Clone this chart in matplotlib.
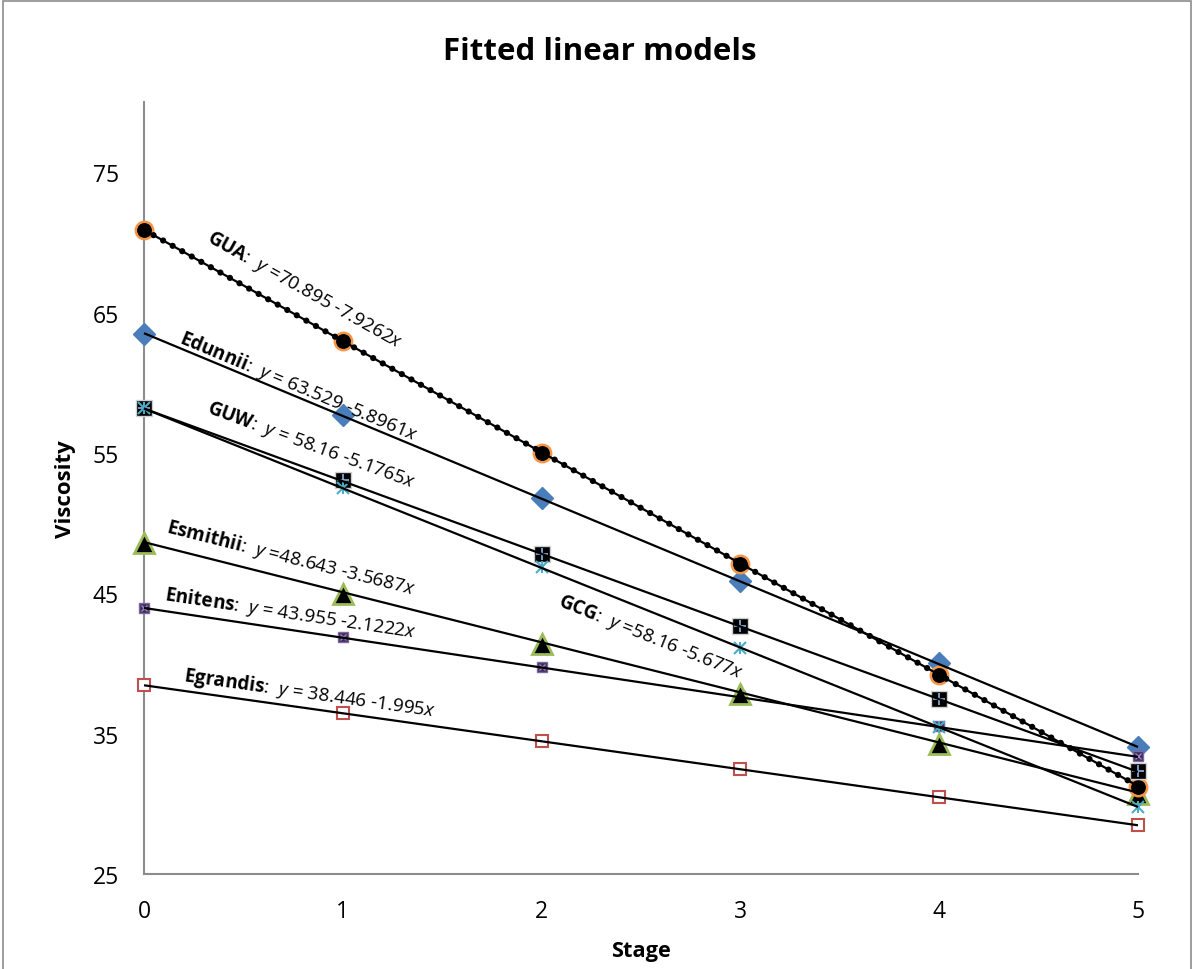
import math
import matplotlib
matplotlib.use("Agg")
import matplotlib.pyplot as plt
from matplotlib.patches import Rectangle

plt.rcParams['font.family'] = ['Open Sans', 'DejaVu Sans']
plt.rcParams['mathtext.fontset'] = 'custom'
plt.rcParams['mathtext.rm'] = 'Open Sans'
plt.rcParams['mathtext.it'] = 'Open Sans:italic'
plt.rcParams['mathtext.bf'] = 'Open Sans:bold'

# ---------------- data ----------------
stages = [0, 1, 2, 3, 4, 5]
series = ["Edunnii", "Egrandis", "Enitens", "Esmithii", "GUA", "GUW", "GCG"]
edunnii = [63.46, 57.69, 51.78, 45.87, 40.03, 34.05]
egrandis = [38.46, 36.47, 34.47, 32.48, 30.48, 28.49]
enitens = [43.95, 41.88, 39.74, 37.68, 35.54, 33.40]
esmithii = [48.58, 44.94, 41.38, 37.82, 34.26, 30.70]
gua = [70.87, 62.96, 54.99, 47.08, 39.17, 31.20]
guw = [58.19, 53.06, 47.79, 42.66, 37.46, 32.34]
gcg = [58.19, 52.49, 46.87, 41.10, 35.47, 29.77]
values = [edunnii, egrandis, enitens, esmithii, gua, guw, gcg]

# fitted models y = a + b x
intercepts = [63.529, 38.446, 43.955, 48.643, 70.895, 58.16, 58.16]
slopes = [-5.8961, -1.995, -2.1222, -3.5687, -7.9262, -5.1765, -5.677]
eq_text = [r"$\mathbf{Edunnii}$:  $\mathit{y}$ = 63.529 -5.8961$\mathit{x}$",
           r"$\mathbf{Egrandis}$:  $\mathit{y}$ = 38.446 -1.995$\mathit{x}$",
           r"$\mathbf{Enitens}$:  $\mathit{y}$ = 43.955 -2.1222$\mathit{x}$",
           r"$\mathbf{Esmithii}$:  $\mathit{y}$ =48.643 -3.5687$\mathit{x}$",
           r"$\mathbf{GUA}$:  $\mathit{y}$ =70.895 -7.9262$\mathit{x}$",
           r"$\mathbf{GUW}$:  $\mathit{y}$ = 58.16 -5.1765$\mathit{x}$",
           r"$\mathbf{GCG}$:  $\mathit{y}$ =58.16 -5.677$\mathit{x}$"]
yticks = [25, 35, 45, 55, 65, 75]
xticks = [0, 1, 2, 3, 4, 5]

# label placement (x, y in data units)
label_pos = [(0.181, 63.32), (0.201, 39.17), (0.106, 44.94), (0.116, 49.79),
             (0.322, 70.51), (0.322, 58.26), (2.088, 44.52)]

# ---------------- figure ----------------
W, H, DPI = 1196, 970, 100
fig = plt.figure(figsize=(W / DPI, H / DPI), dpi=DPI)
ax_l, ax_r, ax_b, ax_t = 144 / W, 1138 / W, (H - 875) / H, (H - 103) / H
ax = fig.add_axes([ax_l, ax_b, ax_r - ax_l, ax_t - ax_b])

# figure border
fig.patches.append(Rectangle((3 / W, -0.05), (1191 - 3) / W, 1.05 - 2 / H,
                             transform=fig.transFigure, fill=False,
                             edgecolor='#8c8c8c', linewidth=1.2))

marker_styles = {
    "Edunnii": dict(marker='D', ms=11, mfc='#4A7EBB', mec='#4A7EBB', mew=1),
    "Egrandis": dict(marker='s', ms=9, mfc='white', mec='#C0504D', mew=1.5),
    "Enitens": dict(marker='s', ms=7, mfc='#3d2e5a', mec='#8064A2', mew=1),
    "Esmithii": dict(marker='^', ms=14, mfc='black', mec='#9BBB59', mew=2),
    "GUA": dict(marker='o', ms=12.5, mfc='black', mec='#F79646', mew=1.8),
    "GUW": dict(marker='s', ms=11, mfc='black', mec='#d0d0d0', mew=1),
    "GCG": dict(marker='x', ms=8, mfc='#4BACC6', mec='#4BACC6', mew=1.5),
}

for name, vals in zip(series, values):
    st = marker_styles[name]
    ax.plot(stages, vals, linestyle='none', clip_on=False, zorder=3, **st)
    if name == "GUW":
        ax.plot(stages, vals, linestyle='none', marker='+', ms=9, mec='#8DB3E2',
                mew=1.2, clip_on=False, zorder=3)
    if name == "GCG":
        ax.plot(stages, vals, linestyle='none', marker='|', ms=9, mec='#4BACC6',
                mew=1.5, clip_on=False, zorder=3)
    if name == "Enitens":
        ax.plot(stages, vals, linestyle='none', marker='x', ms=5, mec='#9f86c0',
                mew=1, clip_on=False, zorder=3)

# fitted lines
xs = [stages[0], stages[-1]]
for name, a, b in zip(series, intercepts, slopes):
    ys = [a + b * x for x in xs]
    ax.plot(xs, ys, color='black', lw=1.6, zorder=4, clip_on=False,
            solid_capstyle='butt')
    if name == "GUA":
        ax.plot(xs, ys, color='black', lw=4.5, zorder=4, clip_on=False,
                linestyle=(0, (0.001, 1.75)), dash_capstyle='round')

ax.set_xlim(0, 5)
ax.set_ylim(25, 80)

# rotation of labels (screen angle of each fitted line)
px_per_x = (ax_r - ax_l) * W / 5.0
px_per_y = (ax_t - ax_b) * H / 55.0
for txt, (lx, ly), b in zip(eq_text, label_pos, slopes):
    ang = math.degrees(math.atan(b * px_per_y / px_per_x))
    ax.text(lx, ly, txt, fontsize=13.6, rotation=ang, rotation_mode='anchor',
            ha='left', va='center', zorder=5)

ax.set_xticks(xticks)
ax.set_yticks(yticks)
ax.tick_params(length=0, labelsize=16.5, pad=18)
for s in ['top', 'right']:
    ax.spines[s].set_visible(False)
for s in ['left', 'bottom']:
    ax.spines[s].set_color('#8c8c8c')
    ax.spines[s].set_linewidth(1.5)

ax.set_xlabel('Stage', fontsize=15.7, fontweight='bold', labelpad=12)
ax.set_ylabel('Viscosity', fontsize=16, fontweight='bold', labelpad=12)
fig.text(600 / W, 1 - 52 / H, 'Fitted linear models', ha='center', va='center',
         fontsize=22.5, fontweight='bold')

fig.savefig('out.png', dpi=DPI)
